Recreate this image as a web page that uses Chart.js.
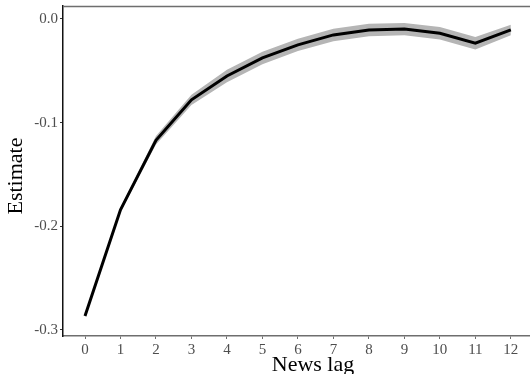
<!DOCTYPE html>
<html>
<head>
<meta charset="utf-8">
<script src="https://cdn.jsdelivr.net/npm/chart.js@4.4.1/dist/chart.umd.min.js"></script>
<style>
  html, body { margin: 0; padding: 0; background: #fff; }
  #wrap { width: 530px; height: 374px; }
</style>
</head>
<body>
<div id="wrap"><canvas id="lagChart"></canvas></div>
<script>
// news lag coefficients with confidence band
const lags = [0, 1, 2, 3, 4, 5, 6, 7, 8, 9, 10, 11, 12];
const estimate = [-0.2865, -0.184, -0.117, -0.078, -0.055, -0.0376, -0.025, -0.0154, -0.0106, -0.0098, -0.0138, -0.0234, -0.0106];
const upper = [-0.2855, -0.182, -0.113, -0.073, -0.049, -0.0316, -0.019, -0.0094, -0.0046, -0.0038, -0.0078, -0.0174, -0.0056];
const lower = [-0.2875, -0.186, -0.121, -0.083, -0.061, -0.0436, -0.031, -0.0214, -0.0166, -0.0158, -0.0198, -0.0294, -0.0156];
const yTicks = [-0.3, -0.2, -0.1, 0.0];
const yTickLabels = ['-0.3', '-0.2', '-0.1', '0.0'];
const xTitle = 'News lag';
const yTitle = 'Estimate';

const pts = arr => lags.map((x, i) => ({ x: x, y: arr[i] }));
const serif = "'Liberation Serif', 'Times New Roman', serif";

// top frame line and the two axis titles
const frame = {
  id: 'frame',
  afterDraw(chart) {
    const a = chart.chartArea, c = chart.ctx;
    c.save();
    c.strokeStyle = '#6e6e6e';
    c.lineWidth = 1.5;
    c.beginPath();
    c.moveTo(a.left, a.top + 0.5);
    c.lineTo(a.right, a.top + 0.5);
    c.stroke();

    c.fillStyle = '#000';
    c.font = '22px ' + serif;
    c.textAlign = 'center';
    c.textBaseline = 'alphabetic';
    c.fillText(xTitle, 313, 371);

    c.translate(22, 176);
    c.rotate(-Math.PI / 2);
    c.fillText(yTitle, 0, 0);
    c.restore();
  }
};

new Chart(document.getElementById('lagChart'), {
  type: 'line',
  data: {
    datasets: [
      { data: pts(upper), borderWidth: 0, pointRadius: 0, fill: '+1', backgroundColor: '#b5b5b5', order: 2 },
      { data: pts(lower), borderWidth: 0, pointRadius: 0, fill: false, order: 2 },
      { data: pts(estimate), borderColor: '#000', borderWidth: 3, pointRadius: 0, fill: false, tension: 0, order: 0 }
    ]
  },
  plugins: [frame],
  options: {
    responsive: true,
    maintainAspectRatio: false,
    animation: false,
    layout: { padding: { top: 6, right: 0, left: 0, bottom: 0 } },
    plugins: { legend: { display: false }, tooltip: { enabled: false } },
    scales: {
      x: {
        type: 'linear',
        min: -0.62,
        max: 12.54,
        afterBuildTicks: s => { s.ticks = lags.map(v => ({ value: v })); },
        afterFit: s => { s.height = 38; s.paddingLeft = 0; s.paddingRight = 0; },
        grid: { drawOnChartArea: false, drawTicks: true, tickLength: 3, color: '#6e6e6e' },
        border: { display: true, color: '#6e6e6e', width: 1.5 },
        ticks: { color: '#4d4d4d', font: { family: serif, size: 15 }, padding: 2, maxRotation: 0, autoSkip: false,
                 callback: v => String(v) }
      },
      y: {
        min: -0.3058,
        max: 0.0125,
        afterBuildTicks: s => { s.ticks = yTicks.map(v => ({ value: v })); },
        afterFit: s => { s.width = 63; s.paddingTop = 0; s.paddingBottom = 0; },
        grid: { drawOnChartArea: false, drawTicks: true, tickLength: 3, color: '#333' },
        border: { display: true, color: '#111', width: 1.5 },
        ticks: { color: '#4d4d4d', font: { family: serif, size: 15 }, padding: 2,
                 callback: v => yTickLabels[yTicks.indexOf(v)] }
      }
    }
  }
});
</script>
</body>
</html>
